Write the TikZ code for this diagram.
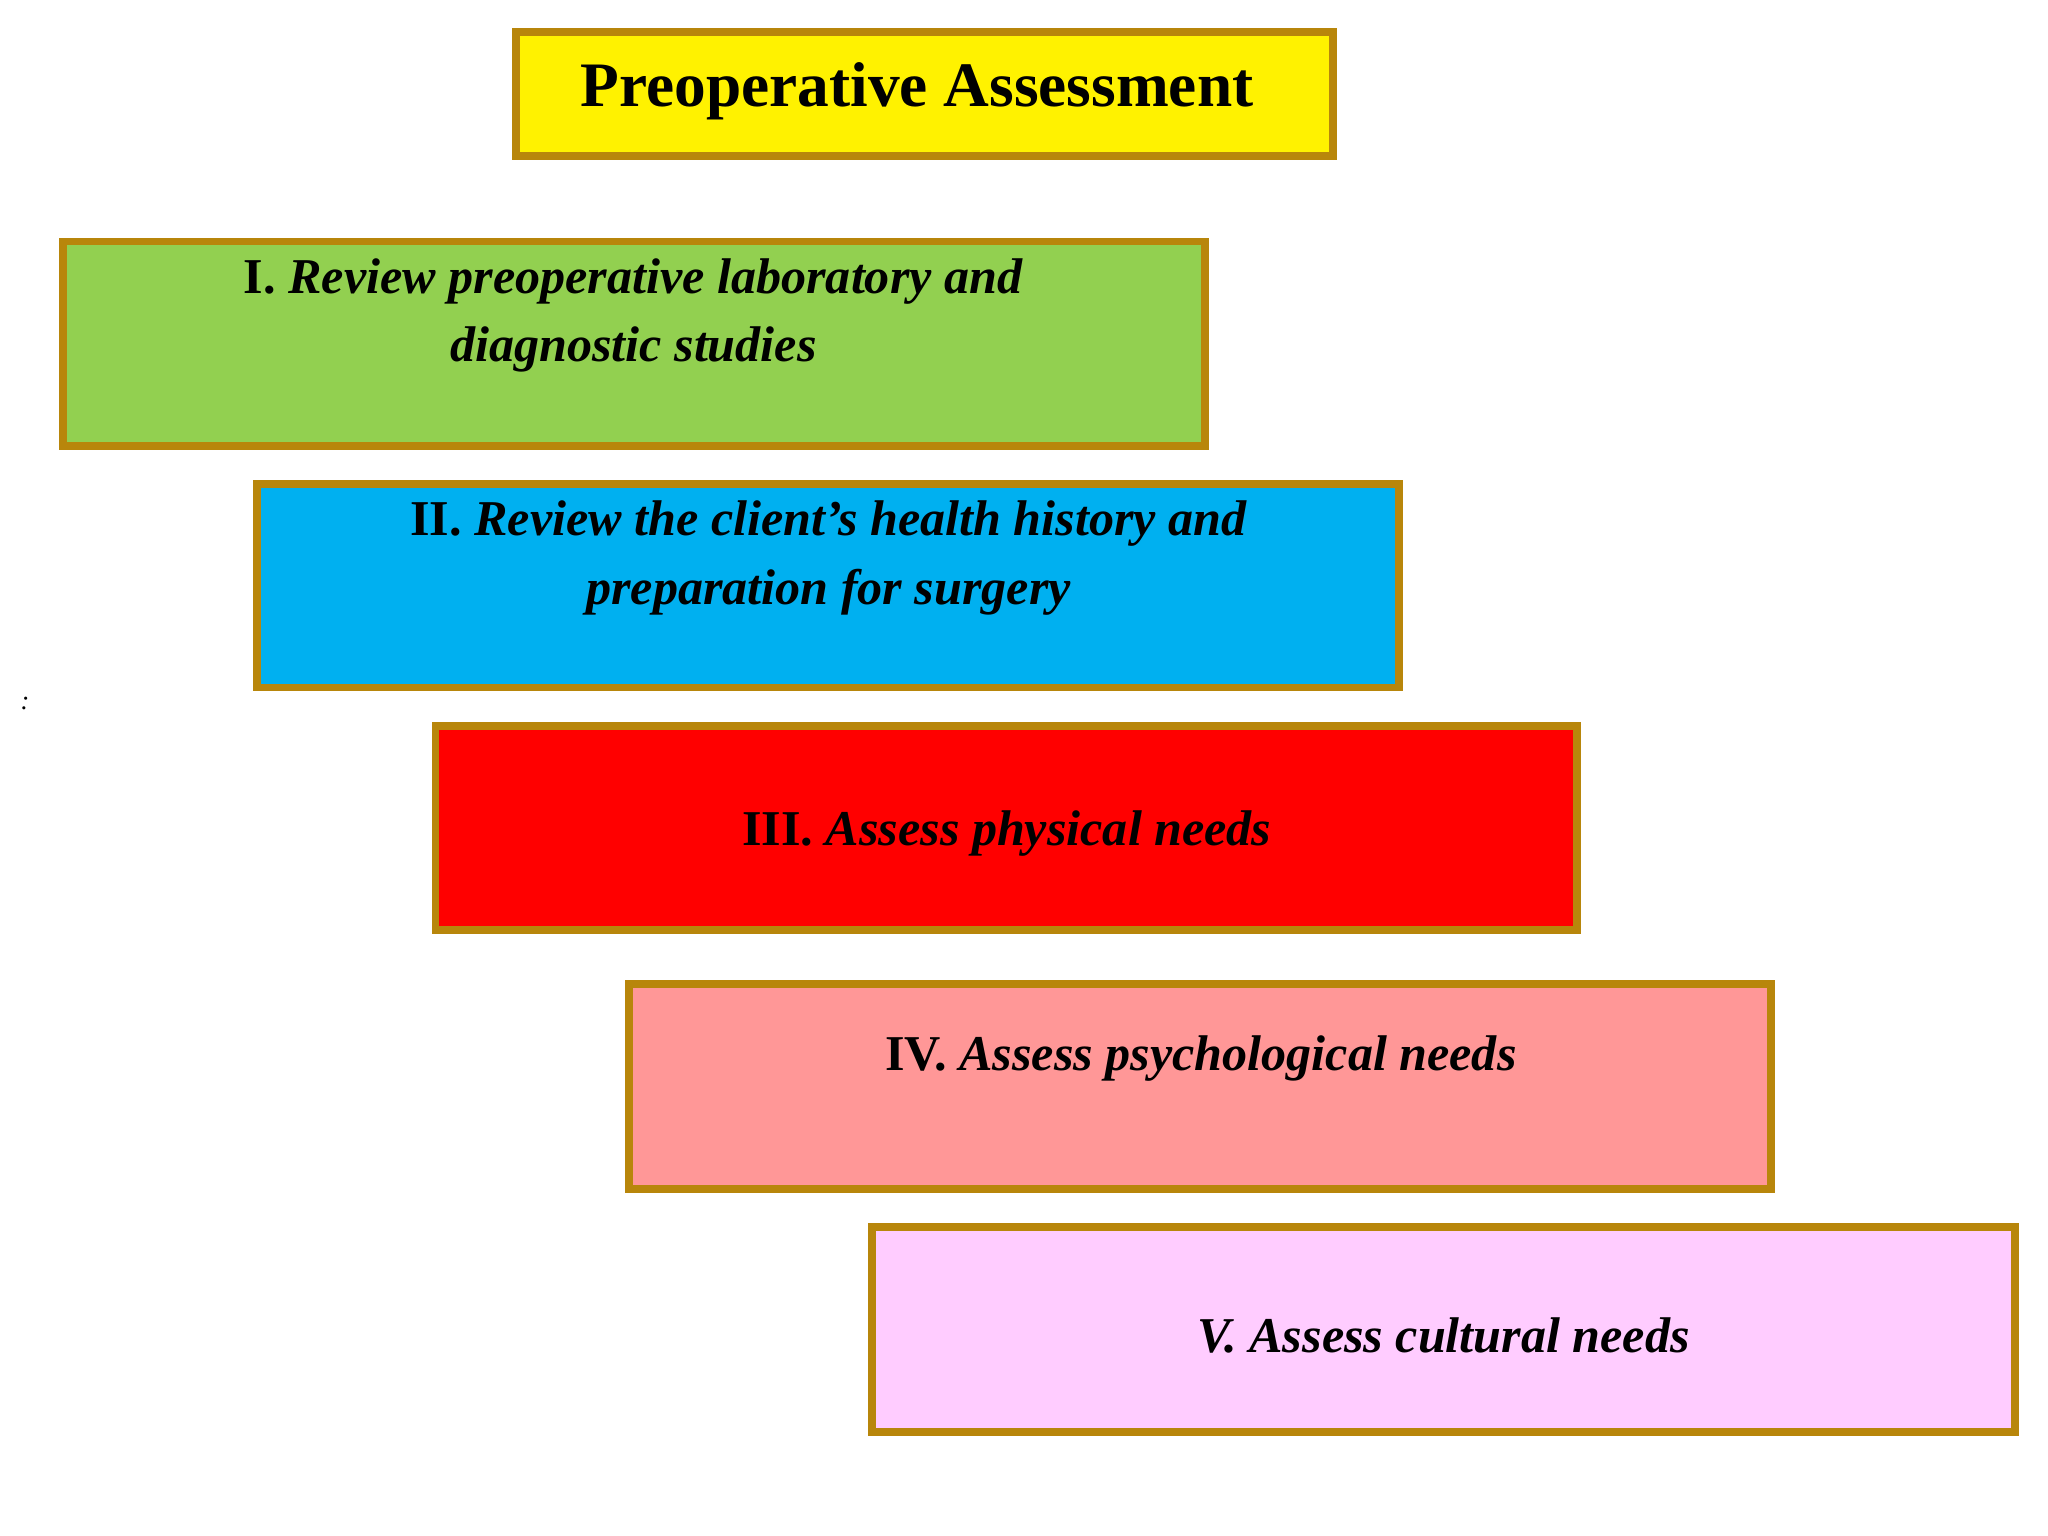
\documentclass[tikz,border=0pt]{standalone}
\usepackage{fontspec}
\setmainfont{Liberation Serif}
\definecolor{bord}{RGB}{184,134,11}
\definecolor{gI}{RGB}{146,208,80}
\definecolor{bII}{RGB}{0,176,240}
\definecolor{pIV}{RGB}{255,151,151}
\definecolor{pV}{RGB}{255,204,255}
\tikzset{box/.style={draw=bord,line width=6pt},
 txt/.style={font=\fontsize{38}{52}\selectfont\bfseries,align=center,inner sep=0pt}}
\begin{document}
\begin{tikzpicture}[x=1pt,y=-1pt]
\useasboundingbox (0,0) rectangle (1552,1164);
\draw[box,fill=yellow] (391,24) rectangle (1010,118);
\node[inner sep=0pt,font=\fontsize{48}{56}\selectfont\bfseries] (t) at (695,69) {Preoperative Assessment};
\draw[box,fill=gI] (48,183) rectangle (913,338);
\node[txt] (a) at (480,239) {I. \textit{Review preoperative laboratory and}\\\textit{diagnostic studies}};
\draw[box,fill=bII] (195,367) rectangle (1060,521);
\node[txt] (b) at (628,423) {II. \textit{Review the client’s health history and}\\\textit{preparation for surgery}};
\draw[box,fill=red] (330,550) rectangle (1195,705);
\node[txt] (c) at (763,632) {III. \textit{Assess physical needs}};
\draw[box,fill=pIV] (477,746) rectangle (1342,901);
\node[txt] (d) at (910,802) {IV. \textit{Assess psychological needs}};
\draw[box,fill=pV] (661,930) rectangle (1527,1085);
\node[txt] (e) at (1094,1012) {\textit{V. Assess cultural needs}};
\node[font=\fontsize{20}{24}\selectfont\itshape] (k) at (19,533) {:};
\end{tikzpicture}
\end{document}
